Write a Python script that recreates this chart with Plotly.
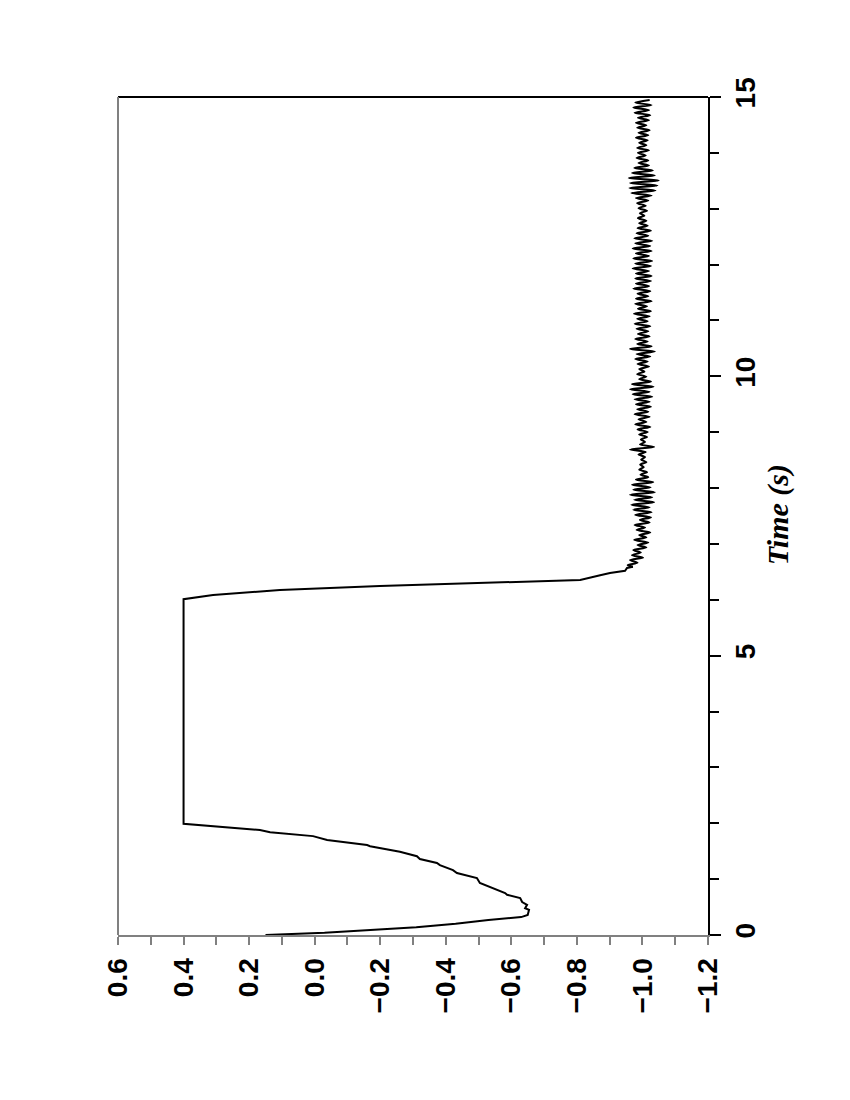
import plotly.graph_objects as go

# ---------------- data ----------------
# smooth part of the response: time (s) and value
main_t = [0.00, 0.02, 0.04, 0.09, 0.14, 0.20, 0.27, 0.32, 0.36, 0.45, 0.48, 0.54, 0.59,
          0.66, 0.72, 0.75, 0.84, 0.93, 1.02, 1.11, 1.16, 1.25, 1.29, 1.36, 1.41, 1.49,
          1.59, 1.61, 1.70, 1.77, 1.84, 1.88, 1.99, 6.01, 6.085, 6.175, 6.247, 6.30,
          6.355, 6.44, 6.48, 6.52, 6.57, 6.59]
main_v = [0.15, 0.05, -0.03, -0.17, -0.31, -0.43, -0.53, -0.63, -0.65, -0.654, -0.642,
          -0.648, -0.633, -0.627, -0.587, -0.581, -0.544, -0.504, -0.495, -0.434, -0.422,
          -0.382, -0.373, -0.321, -0.312, -0.260, -0.169, -0.160, -0.038, 0.005, 0.136,
          0.167, 0.40, 0.40, 0.31, 0.106, -0.199, -0.50, -0.81, -0.871, -0.901, -0.947,
          -0.953, -0.971]

# oscillating part (extrema)
osc_t = [6.620, 6.665, 6.710, 6.755, 6.800, 6.845, 6.890, 6.935,
         6.980, 7.025, 7.070, 7.115, 7.160, 7.205, 7.250, 7.295, 7.340, 7.385, 7.430, 7.475,
         7.520,
         7.565, 7.610, 7.655, 7.700, 7.745, 7.790, 7.835, 7.880, 7.925, 7.970, 8.015, 8.060,
         8.105, 8.150, 8.195,
         8.240, 8.285, 8.330, 8.375, 8.420, 8.465, 8.510, 8.555, 8.600, 8.645,
         8.690, 8.735,
         8.780, 8.825, 8.870, 8.915, 8.960,
         9.005, 9.050, 9.095, 9.140, 9.185, 9.230, 9.275, 9.320, 9.365, 9.410, 9.455, 9.500,
         9.545,
         9.590, 9.635, 9.680, 9.725, 9.770, 9.815, 9.860, 9.905,
         9.950, 9.995, 10.040, 10.085, 10.130,
         10.175, 10.220, 10.265, 10.310, 10.355, 10.400, 10.445, 10.490, 10.535, 10.580,
         10.625, 10.670, 10.715, 10.760,
         10.805, 10.850, 10.895, 10.940, 10.985, 11.030, 11.075, 11.120, 11.165, 11.210,
         11.255, 11.300, 11.345, 11.390, 11.435, 11.480, 11.525, 11.570, 11.615, 11.660,
         11.705,
         11.750, 11.795, 11.840, 11.885, 11.930, 11.975, 12.020, 12.065, 12.110, 12.155,
         12.200, 12.245, 12.290, 12.335, 12.380, 12.425, 12.470, 12.515, 12.560, 12.605,
         12.650, 12.695, 12.740,
         12.785, 12.830, 12.875, 12.920, 12.965, 13.010, 13.055, 13.100, 13.145, 13.190,
         13.235, 13.280, 13.325, 13.370, 13.415, 13.460, 13.505, 13.550, 13.595, 13.640,
         13.685, 13.730, 13.775,
         13.820, 13.865, 13.910, 13.955, 14.000, 14.045, 14.090, 14.135, 14.180, 14.225,
         14.270, 14.315, 14.360, 14.405, 14.450, 14.495, 14.540, 14.585, 14.630,
         14.675, 14.720, 14.765, 14.810, 14.855, 14.900, 14.945]
osc_v = [-0.955, -0.985, -0.962, -1.002, -0.968, -0.995, -0.972, -1.012,
         -0.985, -1.018, -0.975, -1.012, -0.99, -1.024, -0.982, -1.008, -0.976, -1.022,
         -0.992, -1.026, -0.978,
         -1.028, -0.972, -1.022, -0.966, -1.036, -0.975, -1.03, -0.962, -1.038, -0.972,
         -1.025, -0.968, -1.033, -0.98, -1.018,
         -0.994, -1.014, -0.99, -1.004, -0.993, -1.012, -0.996, -1.008, -0.988, -1.01,
         -0.962, -1.036,
         -0.992, -1.008, -0.995, -1.014, -0.99,
         -1.016, -0.985, -1.024, -0.978, -1.012, -0.988, -1.022, -0.976, -1.018, -0.984,
         -1.026, -0.98, -1.022,
         -0.976, -1.03, -0.97, -1.022, -0.962, -1.034, -0.968, -1.026,
         -0.99, -1.012, -0.984, -1.006, -0.99,
         -1.02, -0.985, -1.016, -0.978, -1.024, -0.982, -1.038, -0.962, -1.028, -0.984,
         -1.016, -0.978, -1.022, -0.986,
         -1.018, -0.982, -1.024, -0.976, -1.016, -0.984, -1.022, -0.974, -1.026, -0.986,
         -1.014, -0.978, -1.028, -0.98, -1.018, -0.985, -1.024, -0.972, -1.02, -0.98,
         -1.026,
         -0.978, -1.028, -0.98, -1.02, -0.97, -1.026, -0.978, -1.03, -0.972, -1.02, -0.98,
         -1.028, -0.97, -1.024, -0.978, -1.03, -0.975, -1.018, -0.982, -1.026, -0.985,
         -1.016, -0.99,
         -1.012, -0.986, -1.006, -0.992, -1.014, -0.988, -1.01, -0.984, -1.018, -0.98,
         -1.028, -0.966, -1.04, -0.96, -1.046, -0.962, -1.05, -0.958, -1.038, -0.968,
         -1.032, -0.975, -1.02,
         -0.988, -1.018, -0.982, -1.01, -0.986, -1.02, -0.984, -1.012, -0.99, -1.016, -0.98,
         -1.018, -0.988, -1.022, -0.984, -1.012, -0.98, -1.02, -0.986,
         -1.024, -0.976, -1.02, -0.972, -1.028, -0.978, -1.022]

value_ticks = [0.6, 0.4, 0.2, 0.0, -0.2, -0.4, -0.6, -0.8, -1.0, -1.2]
value_labels = ["0.6", "0.4", "0.2", "0.0", "\u22120.2", "\u22120.4", "\u22120.6",
                "\u22120.8", "\u22121.0", "\u22121.2"]
time_ticks = [0, 5, 10, 15]
time_labels = ["0", "5", "10", "15"]
time_title = "<b><i>Time (s)</i></b>"

# ---------------- figure ----------------
fig = go.Figure()
fig.add_trace(go.Scatter(x=main_v, y=main_t, mode="lines",
                         line=dict(color="black", width=2), showlegend=False))
fig.add_trace(go.Scatter(x=[main_v[-1]] + osc_v, y=[main_t[-1]] + osc_t, mode="lines",
                         line=dict(color="black", width=2, shape="spline", smoothing=0.6),
                         showlegend=False))

tickfont = dict(family="Liberation Sans, Arial, sans-serif", size=28, color="black",
                weight="bold")

fig.update_layout(
    width=850, height=1100, autosize=False,
    margin=dict(l=110, r=150, t=89, b=173, pad=0),
    paper_bgcolor="white", plot_bgcolor="white",
    xaxis=dict(range=[0.6, -1.2], tickvals=value_ticks, ticktext=value_labels,
               tickangle=-90, tickfont=tickfont, ticks="outside", ticklen=8,
               tickcolor="#808080", tickwidth=1.5, showgrid=False, zeroline=False,
               showline=True, linecolor="#808080", linewidth=2,
               minor=dict(dtick=0.1, ticks="outside", ticklen=8, tickcolor="#808080",
                          tickwidth=1.5, showgrid=False),
               ticklabelstandoff=2),
    yaxis=dict(range=[0, 15], side="right", tickvals=time_ticks, ticktext=time_labels,
               tickangle=-90, tickfont=tickfont, ticks="outside", ticklen=11,
               tickcolor="black", tickwidth=1.5, showgrid=False, zeroline=False,
               showline=True, linecolor="black", linewidth=2,
               minor=dict(dtick=1, ticks="outside", ticklen=9, tickcolor="black",
                          tickwidth=1.5, showgrid=False),
               ticklabelstandoff=0),
)

# remaining frame edges (top black, left gray)
fig.add_shape(type="line", xref="paper", yref="paper", x0=0, x1=1, y0=1, y1=1,
              line=dict(color="black", width=2))
fig.add_shape(type="line", xref="paper", yref="paper", x0=0, x1=0, y0=0, y1=1,
              line=dict(color="#808080", width=2))

fig.add_annotation(text=time_title, xref="paper", yref="paper", x=1.119, y=0.501,
                   showarrow=False, textangle=-90,
                   font=dict(family="Liberation Serif, Times New Roman, serif", size=30,
                             color="black"),
                   xanchor="center", yanchor="middle")

fig.write_html("out.html")
